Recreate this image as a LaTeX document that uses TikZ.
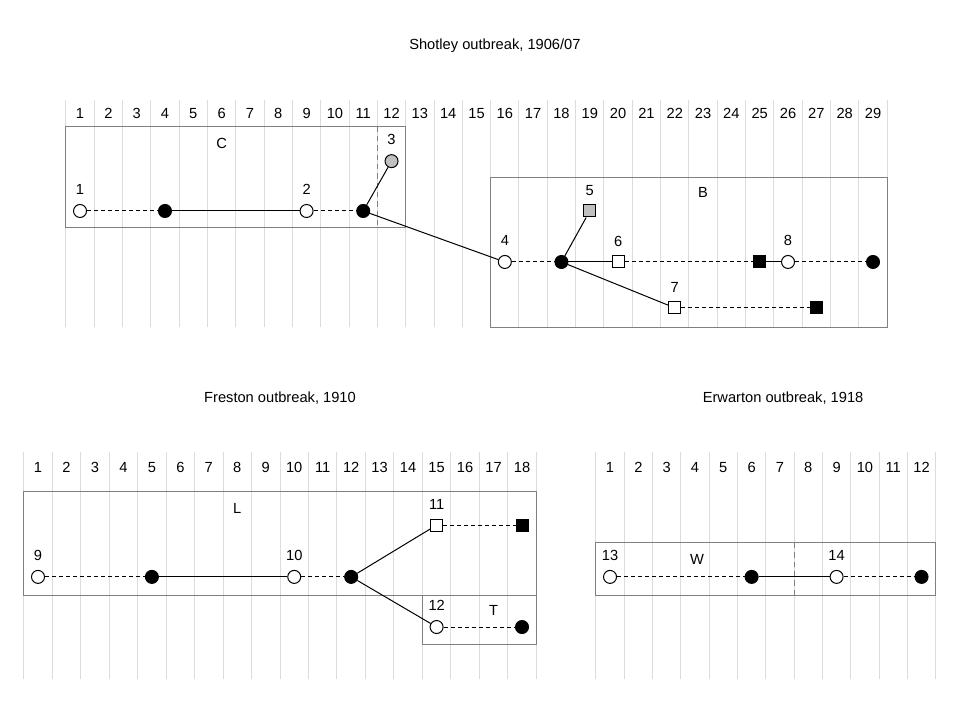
\documentclass[tikz,border=0pt]{standalone}
\usepackage{fontspec}
\setmainfont{Liberation Sans}
\usepackage{tikz}

\definecolor{gridgrey}{RGB}{220,220,220}
\definecolor{boxgrey}{RGB}{128,128,128}
\definecolor{casegrey}{RGB}{192,192,192}

\begin{document}
\begin{tikzpicture}[x=21.24pt,y=21.24pt,
  font=\fontsize{11}{13}\selectfont,
  gridline/.style={gridgrey,line width=0.75pt},
  colnum/.style={text height=1.6ex,text depth=0pt},
  frame/.style={draw=boxgrey,line width=0.75pt},
  split/.style={frame,dash pattern=on 4pt off 3pt},
  link/.style={line width=0.75pt},
  gap/.style={line width=0.75pt,dash pattern=on 3pt off 2.25pt},
  tag/.style={label={[inner sep=0pt,label distance=6.75pt,text height=1.6ex,text depth=0pt]above:#1}},
  opencase/.style={circle,draw,fill=white,inner sep=0pt,minimum size=9.75pt,line width=0.75pt},
  deadcase/.style={opencase,fill=black},
  greycase/.style={opencase,fill=casegrey},
  opensq/.style={rectangle,draw,fill=white,inner sep=0pt,minimum size=9pt,line width=0.75pt},
  deadsq/.style={opensq,fill=black},
  greysq/.style={opensq,fill=casegrey}]
\useasboundingbox (0,0) rectangle (33.898,-25.424);

% Shotley
\begin{scope}[shift={(1.8256,-3.99)}]
\node (shotley) at (15.65,2.37) {Shotley outbreak, 1906/07};
\foreach \i in {1,...,29} {
  \draw[gridline] (\i-0.5,0.47) -- (\i-0.5,-7.55);
  \node[colnum] (s\i) at (\i,0) {\i};
}
\draw[gridline] (29.5,0.47) -- (29.5,-7.55);
\draw[frame] (0.5,-0.48) rectangle (12.5,-4.04);
\draw[split] (11.5,-0.48) -- (11.5,-4.04);
\draw[frame] (15.5,-2.26) rectangle (29.5,-7.56);
\node (boxC) at (6,-1.06) {C};
\node (boxB) at (23,-2.82) {B};

\node[opencase,tag=1] (c1) at (1,-3.46) {};
\node[deadcase] (c1d) at (4,-3.46) {};
\node[opencase,tag=2] (c2) at (9,-3.46) {};
\node[deadcase] (c2d) at (11,-3.46) {};
\node[greycase,tag=3] (c3) at (12,-1.7) {};
\node[opencase,tag=4] (c4) at (16,-5.26) {};
\node[deadcase] (c4d) at (18,-5.26) {};
\node[greysq,tag=5] (c5) at (19,-3.46) {};
\node[opensq,tag=6] (c6) at (20,-5.26) {};
\node[deadsq] (c6d) at (25,-5.26) {};
\node[opencase,tag=8] (c8) at (26,-5.26) {};
\node[deadcase] (c8d) at (29,-5.26) {};
\node[opensq,tag=7] (c7) at (22,-6.88) {};
\node[deadsq] (c7d) at (27,-6.88) {};

\draw[gap] (c1) -- (c1d);
\draw[link] (c1d) -- (c2);
\draw[gap] (c2) -- (c2d);
\draw[link] (c2d) -- (c3);
\draw[link] (c2d) -- (c4);
\draw[gap] (c4) -- (c4d);
\draw[link] (c4d) -- (c5);
\draw[link] (c4d) -- (c6);
\draw[link] (c4d) -- (c7);
\draw[gap] (c6) -- (c6d);
\draw[link] (c6d) -- (c8);
\draw[gap] (c8) -- (c8d);
\draw[gap] (c7) -- (c7d);
\end{scope}

% Freston
\begin{scope}[shift={(0.3365,-16.49)},xscale=1.0053]
\node (freston) at (9.5,2.44) {Freston outbreak, 1910};
\foreach \i in {1,...,18} {
  \draw[gridline] (\i-0.5,0.53) -- (\i-0.5,-7.49);
  \node[colnum] (f\i) at (\i,0) {\i};
}
\draw[gridline] (18.5,0.53) -- (18.5,-7.49);
\draw[frame] (0.5,-0.88) rectangle (18.5,-4.55);
\draw[frame] (14.5,-4.55) rectangle (18.5,-6.27);
\node (boxL) at (8,-1.48) {L};
\node (boxT) at (17,-5.08) {T};

\node[opencase,tag=9] (c9) at (1,-3.88) {};
\node[deadcase] (c9d) at (5,-3.88) {};
\node[opencase,tag=10] (c10) at (10,-3.88) {};
\node[deadcase] (c10d) at (12,-3.88) {};
\node[opensq,tag=11] (c11) at (15,-2.05) {};
\node[deadsq] (c11d) at (18,-2.05) {};
\node[opencase,tag=12] (c12) at (15,-5.65) {};
\node[deadcase] (c12d) at (18,-5.65) {};

\draw[gap] (c9) -- (c9d);
\draw[link] (c9d) -- (c10);
\draw[gap] (c10) -- (c10d);
\draw[link] (c10d) -- (c11);
\draw[link] (c10d) -- (c12);
\draw[gap] (c11) -- (c11d);
\draw[gap] (c12) -- (c12d);
\end{scope}

% Erwarton
\begin{scope}[shift={(20.54,-16.49)}]
\node (erwarton) at (7.11,2.44) {Erwarton outbreak, 1918};
\foreach \i in {1,...,12} {
  \draw[gridline] (\i-0.5,0.53) -- (\i-0.5,-7.49);
  \node[colnum] (e\i) at (\i,0) {\i};
}
\draw[gridline] (12.5,0.53) -- (12.5,-7.49);
\draw[frame] (0.5,-2.68) rectangle (12.5,-4.52);
\draw[split] (7.5,-2.68) -- (7.5,-4.52);
\node (boxW) at (4.07,-3.25) {W};

\node[opencase,tag=13] (c13) at (1,-3.88) {};
\node[deadcase] (c13d) at (6,-3.88) {};
\node[opencase,tag=14] (c14) at (9,-3.88) {};
\node[deadcase] (c14d) at (12,-3.88) {};

\draw[gap] (c13) -- (c13d);
\draw[link] (c13d) -- (c14);
\draw[gap] (c14) -- (c14d);
\end{scope}
\end{tikzpicture}
\end{document}
